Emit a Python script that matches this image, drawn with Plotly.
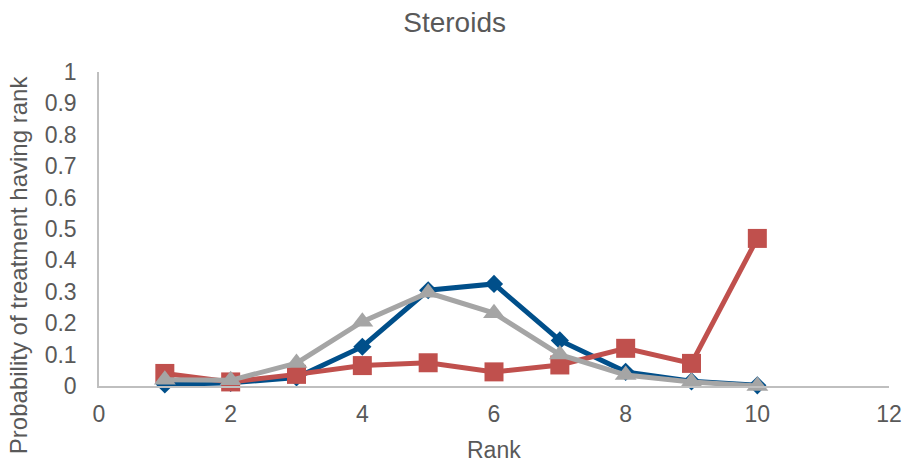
import plotly.graph_objects as go

ranks = [1, 2, 3, 4, 5, 6, 7, 8, 9, 10]
series_blue = [0.005, 0.01, 0.027, 0.125, 0.305, 0.325, 0.145, 0.045, 0.015, 0.002]
series_red = [0.04, 0.013, 0.037, 0.065, 0.074, 0.045, 0.067, 0.12, 0.072, 0.47]
series_gray = [0.02, 0.018, 0.073, 0.205, 0.297, 0.232, 0.1, 0.035, 0.013, 0.0]

x_ticks = [0, 2, 4, 6, 8, 10, 12]
y_ticks = [0, 0.1, 0.2, 0.3, 0.4, 0.5, 0.6, 0.7, 0.8, 0.9, 1]

font = "Liberation Sans, Arial, sans-serif"
txt = "#595959"

fig = go.Figure()
fig.add_trace(go.Scatter(x=ranks, y=series_blue, mode="lines+markers",
                         line=dict(color="#004F8A", width=5),
                         marker=dict(symbol="diamond", size=14, color="#004F8A"),
                         name="Series1", cliponaxis=False))
fig.add_trace(go.Scatter(x=ranks, y=series_red, mode="lines+markers",
                         line=dict(color="#C0504D", width=5),
                         marker=dict(symbol="square", size=19, color="#C0504D"),
                         name="Series2", cliponaxis=False))
fig.add_trace(go.Scatter(x=ranks, y=series_gray, mode="lines+markers",
                         line=dict(color="#A5A5A5", width=5),
                         marker=dict(symbol="triangle-up", size=19, color="#A5A5A5"),
                         name="Series3", cliponaxis=False))

fig.update_layout(
    width=902, height=463,
    margin=dict(l=99, r=13, t=72, b=77),
    paper_bgcolor="white", plot_bgcolor="white",
    showlegend=False,
    title=dict(text="Steroids", x=0.504, xanchor="center", y=0.9525, yanchor="middle",
               font=dict(family=font, size=28, color=txt)),
    font=dict(family=font, color=txt),
    annotations=[
        dict(text="Rank", xref="paper", yref="paper", x=0.5, y=-0.204,
             xanchor="center", yanchor="middle", showarrow=False,
             font=dict(family=font, size=23, color=txt)),
        dict(text="Probability of treatment having rank", xref="paper", yref="paper",
             x=-0.1025, y=0.385, xanchor="center", yanchor="middle", textangle=-90,
             showarrow=False, font=dict(family=font, size=24, color=txt)),
    ],
)
fig.update_xaxes(range=[0, 12], tickvals=x_ticks, ticktext=[str(v) for v in x_ticks],
                 showgrid=False, zeroline=False, showline=True, linecolor="#BFBFBF", linewidth=1.5,
                 ticks="", tickfont=dict(size=23, color=txt), ticklabelstandoff=7,
                 automargin=False)
fig.update_yaxes(range=[0, 1], tickvals=y_ticks, ticktext=[f"{v:g}" for v in y_ticks],
                 showgrid=False, zeroline=False, showline=True, linecolor="#BFBFBF", linewidth=1.5,
                 ticks="", tickfont=dict(size=23, color=txt), ticklabelstandoff=16,
                 automargin=False)

fig.write_html("out.html", config={"displayModeBar": False},
               post_script="document.body.style.margin='0';")
